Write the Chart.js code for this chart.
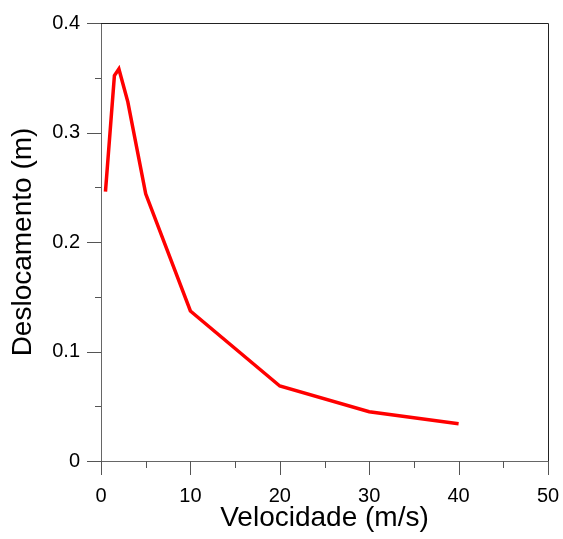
<!DOCTYPE html>
<html>
<head>
<meta charset="utf-8">
<script src="https://cdn.jsdelivr.net/npm/chart.js@4/dist/chart.umd.min.js"></script>
<style>
  html, body { margin: 0; padding: 0; background: #fff; }
</style>
</head>
<body>
<canvas id="grafico" width="563" height="539"></canvas>
<script>
// dados
var velocidade = [0.5, 1.5, 2, 3, 5, 10, 20, 30, 40];
var deslocamento = [0.246, 0.352, 0.358, 0.328, 0.244, 0.137, 0.0685, 0.045, 0.034];

var xMajor = [0, 10, 20, 30, 40, 50];
var xMinor = [5, 15, 25, 35, 45];
var yMajor = [0, 0.1, 0.2, 0.3, 0.4];
var yMinor = [0.05, 0.15, 0.25, 0.35];

var pontos = [];
for (var i = 0; i < velocidade.length; i++) {
    pontos.push({ x: velocidade[i], y: deslocamento[i] });
}

// desenha os traços dos eixos e a moldura (topo e direita)
var tracos = {
    id: 'tracos',
    afterDraw: function (chart) {
        var c = chart.ctx;
        var a = chart.chartArea;
        var sx = chart.scales.x;
        var sy = chart.scales.y;
        c.save();
        c.lineWidth = 1;
        c.strokeStyle = '#555';
        c.beginPath();
        xMajor.forEach(function (v) {
            var p = Math.round(sx.getPixelForValue(v)) + 0.5;
            c.moveTo(p, a.bottom); c.lineTo(p, a.bottom + 14);
        });
        xMinor.forEach(function (v) {
            var p = Math.round(sx.getPixelForValue(v)) + 0.5;
            c.moveTo(p, a.bottom); c.lineTo(p, a.bottom + 7);
        });
        yMajor.forEach(function (v) {
            var p = Math.round(sy.getPixelForValue(v)) + 0.5;
            c.moveTo(a.left, p); c.lineTo(a.left - 14, p);
        });
        yMinor.forEach(function (v) {
            var p = Math.round(sy.getPixelForValue(v)) + 0.5;
            c.moveTo(a.left, p); c.lineTo(a.left - 6, p);
        });
        c.stroke();
        c.strokeStyle = '#222';
        c.beginPath();
        c.moveTo(a.left, Math.round(a.top) + 0.5);
        c.lineTo(Math.round(a.right) + 0.5, Math.round(a.top) + 0.5);
        c.lineTo(Math.round(a.right) + 0.5, a.bottom);
        c.stroke();
        c.restore();
    }
};

var ctx = document.getElementById('grafico').getContext('2d');
var chart = new Chart(ctx, {
    type: 'line',
    data: {
        datasets: [{
            label: 'Deslocamento',
            data: pontos,
            borderColor: '#ff0000',
            borderWidth: 3.5,
            pointRadius: 0,
            tension: 0,
            fill: false
        }]
    },
    options: {
        responsive: false,
        animation: false,
        layout: { padding: { left: 0, right: 15, top: 23, bottom: 0 } },
        plugins: {
            legend: { display: false },
            tooltip: { enabled: false }
        },
        scales: {
            x: {
                type: 'linear',
                min: 0,
                max: 50,
                afterFit: function (s) { s.height = 78; s.paddingLeft = 0; s.paddingRight = 0; },
                ticks: {
                    stepSize: 10,
                    padding: 23,
                    color: '#000',
                    font: { family: 'Liberation Sans', size: 20 },
                    maxRotation: 0
                },
                grid: { display: true, drawOnChartArea: false, drawTicks: false },
                border: { display: true, color: '#666', width: 1 },
                title: {
                    display: true,
                    text: 'Velocidade (m/s)',
                    color: '#000',
                    font: { family: 'Liberation Sans', size: 28 },
                    padding: { top: 0, bottom: 4 }
                }
            },
            y: {
                min: 0,
                max: 0.4,
                afterFit: function (s) { s.width = 101; s.paddingTop = 0; s.paddingBottom = 0; },
                ticks: {
                    stepSize: 0.1,
                    padding: 21,
                    color: '#000',
                    font: { family: 'Liberation Sans', size: 20 },
                    callback: function (v) { return String(parseFloat(v.toFixed(2))); }
                },
                grid: { display: true, drawOnChartArea: false, drawTicks: false },
                border: { display: true, color: '#666', width: 1 },
                title: {
                    display: true,
                    text: 'Deslocamento (m)',
                    color: '#000',
                    font: { family: 'Liberation Sans', size: 28 },
                    padding: { top: 6, bottom: 0 }
                }
            }
        }
    },
    plugins: [tracos]
});
</script>
</body>
</html>
